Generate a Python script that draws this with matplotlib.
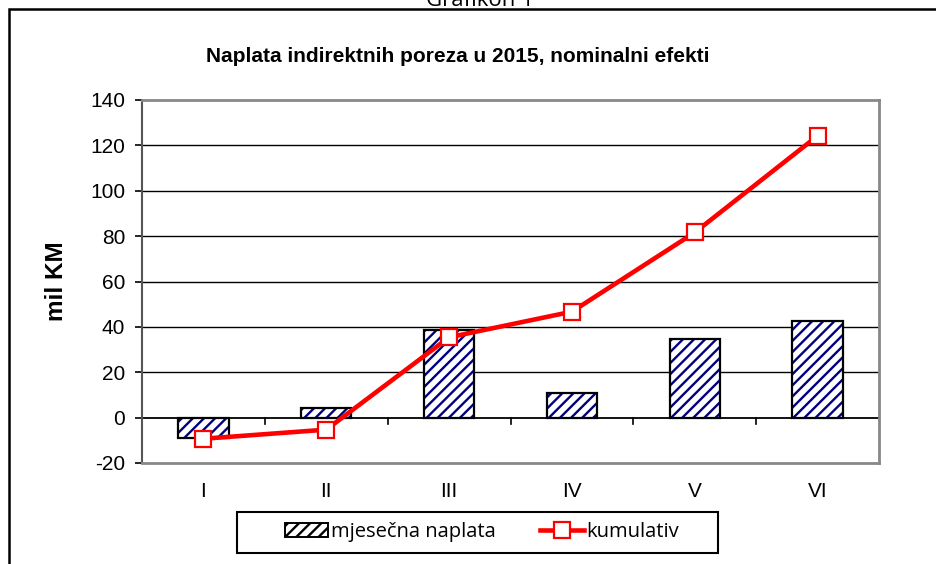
import matplotlib.pyplot as plt
from matplotlib.patches import Rectangle
from matplotlib.lines import Line2D

months = ['I', 'II', 'III', 'IV', 'V', 'VI']
monthly = [-8.8, 4.3, 38.5, 11.0, 34.7, 42.4]
cumulative = [-9.3, -5.3, 35.4, 46.7, 81.6, 124.2]
yticks = [-20, 0, 20, 40, 60, 80, 100, 120, 140]

plt.rcParams['font.family'] = ['Liberation Sans', 'DejaVu Sans']
plt.rcParams['hatch.linewidth'] = 1.7

fig = plt.figure(figsize=(9.36, 5.64), dpi=100)
ax = fig.add_axes([142 / 936, 1 - 463 / 564, 737 / 936, 363 / 564])

x = list(range(len(months)))

# grid lines
for v in yticks[2:-1]:
    ax.axhline(v, color='black', lw=1, zorder=1)
ax.axhline(0, color='black', lw=1.3, zorder=1)
for b in [i + 0.5 for i in x[:-1]]:
    ax.plot([b, b], [0, -2.6], color='black', lw=1.2, zorder=1, clip_on=False)

# bars: hatch then outline
ax.bar(x, monthly, width=0.41, color='white', edgecolor='#000080',
       hatch='///', lw=0, zorder=2)
ax.bar(x, monthly, width=0.41, color='none', edgecolor='black', lw=1.6, zorder=3)

ax.plot(x, cumulative, color='#ff0000', lw=3.3, marker='s', ms=11.5,
        mfc='white', mec='#ff0000', mew=1.6, zorder=4)

ax.set_xlim(-0.5, 5.5)
ax.set_ylim(-20, 140)
ax.set_yticks(yticks)
ax.set_yticklabels([str(v) for v in yticks], fontsize=15)
ax.set_xticks(x)
ax.set_xticklabels(months, fontsize=15)
ax.tick_params(axis='x', length=0, pad=14)
ax.tick_params(axis='y', length=5, width=1.2, color='black', pad=7)
for s in ax.spines.values():
    s.set_color('#888888')
    s.set_linewidth(2)
ax.spines['left'].set_color('#555555')
ax.spines['left'].set_linewidth(1.5)

ax.set_ylabel('mil KM', fontsize=17.5, fontweight='bold')
ax.yaxis.set_label_coords(-0.101, 0.5)

fig.text(458 / 936, 1 - 57 / 564, 'Naplata indirektnih poreza u 2015, nominalni efekti',
         ha='center', va='center', fontsize=15, fontweight='bold')
fig.text(480 / 936, 1.0, 'Grafikon 1', ha='center', va='center', fontsize=16,
         family='Open Sans')

# outer frame
fig.add_artist(Rectangle((9 / 936, -0.1), 1.2, 1 - 9 / 564 + 0.1,
                         transform=fig.transFigure, fill=False,
                         edgecolor='black', lw=1.8))

# legend box
fig.add_artist(Rectangle((237 / 936, 1 - 553 / 564), 481 / 936, 41 / 564,
                         transform=fig.transFigure, fill=False,
                         edgecolor='black', lw=1.5))

handles = [Rectangle((0, 0), 1, 1, facecolor='white', edgecolor='#000080',
                     hatch='///', lw=1.4),
           Line2D([0], [0], color='#ff0000', lw=3.3, marker='s', ms=11.5,
                  mfc='white', mec='#ff0000', mew=1.6)]
leg = fig.legend(handles, ['mjesečna naplata', 'kumulativ'], ncol=2,
                 loc='center left', bbox_to_anchor=(285 / 936, 1 - 532 / 564),
                 prop={'family': 'Open Sans', 'size': 14.5},
                 frameon=False, borderpad=0, borderaxespad=0,
                 handlelength=2.15, handleheight=0.65, handletextpad=0.15,
                 columnspacing=2.2)
leg.legend_handles[0].set_edgecolor('black')

fig.savefig('out.png', dpi=100)
